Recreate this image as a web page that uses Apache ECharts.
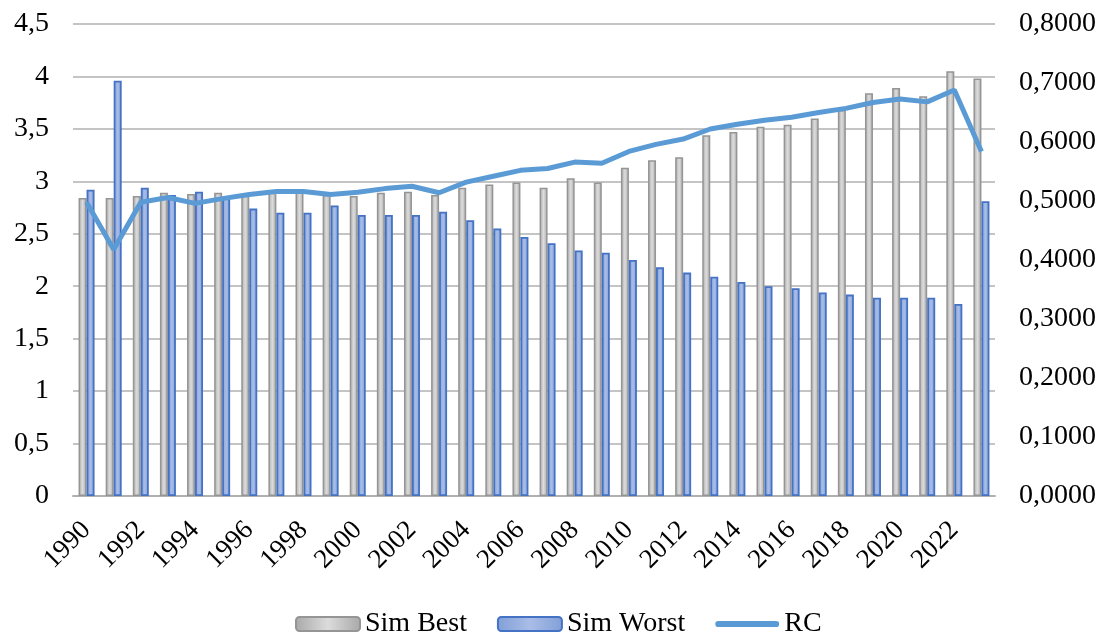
<!DOCTYPE html>
<html>
<head>
<meta charset="utf-8">
<script src="https://cdn.jsdelivr.net/npm/echarts@6/dist/echarts.min.js"></script>
<style>
  html, body { margin: 0; padding: 0; background: #fff; }
  #chart { width: 1103px; height: 635px; }
</style>
</head>
<body>
<div id="chart"></div>
<script>
// Years on the category axis
const years = [];
for (let y = 1990; y <= 2023; y++) years.push(String(y));

// Sim Best (left axis)
const simBest = [2.84, 2.84, 2.86, 2.89, 2.88, 2.89, 2.88, 2.90, 2.90, 2.87,
                 2.86, 2.89, 2.90, 2.87, 2.94, 2.97, 2.99, 2.94, 3.03, 2.99,
                 3.13, 3.20, 3.23, 3.44, 3.47, 3.52, 3.54, 3.60, 3.68, 3.84,
                 3.89, 3.81, 4.05, 3.98];

// Sim Worst (left axis)
const simWorst = [2.92, 3.96, 2.94, 2.87, 2.90, 2.84, 2.74, 2.70, 2.70, 2.77,
                  2.68, 2.68, 2.68, 2.71, 2.63, 2.55, 2.47, 2.41, 2.34, 2.32,
                  2.25, 2.18, 2.13, 2.09, 2.04, 2.00, 1.98, 1.94, 1.92, 1.89,
                  1.89, 1.89, 1.83, 2.81];

// RC (right axis)
const rc = [0.498, 0.418, 0.498, 0.506, 0.496, 0.504, 0.511, 0.516, 0.516, 0.511,
            0.515, 0.521, 0.525, 0.514, 0.532, 0.542, 0.552, 0.555, 0.566, 0.564,
            0.584, 0.596, 0.605, 0.622, 0.630, 0.637, 0.642, 0.650, 0.657, 0.667,
            0.673, 0.668, 0.688, 0.584];

const FONT = 'Liberation Serif';

const grayFill = new echarts.graphic.LinearGradient(0, 0, 1, 0, [
  { offset: 0, color: '#a8a8a8' },
  { offset: 0.5, color: '#dcdcdc' },
  { offset: 1, color: '#a8a8a8' }
]);
const blueFill = new echarts.graphic.LinearGradient(0, 0, 1, 0, [
  { offset: 0, color: '#819fd8' },
  { offset: 0.5, color: '#a9bde6' },
  { offset: 1, color: '#819fd8' }
]);

// rounded bar used as the RC legend marker
const lineIcon = 'path://M3,0 H59 A3,3 0 0 1 59,6 H3 A3,3 0 0 1 3,0 Z';

const chart = echarts.init(document.getElementById('chart'), null, { renderer: 'canvas' });

chart.setOption({
  backgroundColor: '#fff',
  animation: false,
  grid: { left: 73, right: 108, top: 24, bottom: 139 },
  legend: {
    top: 605,
    left: 290,
    itemWidth: 64,
    itemHeight: 14,
    itemGap: 30,
    textStyle: { fontFamily: FONT, fontSize: 28, color: '#000' },
    data: [
      { name: 'Sim Best' },
      { name: 'Sim Worst' },
      { name: 'RC', icon: lineIcon, itemStyle: { color: '#5b9bd5', borderWidth: 0 } }
    ]
  },
  xAxis: {
    type: 'category',
    data: years,
    boundaryGap: true,
    axisLine: { lineStyle: { color: '#b0b0b0', width: 2 } },
    axisTick: { show: false },
    axisLabel: {
      interval: 1,
      rotate: 45,
      margin: 30,
      fontFamily: FONT,
      fontSize: 27,
      color: '#000'
    }
  },
  yAxis: [
    {
      type: 'value',
      min: 0,
      max: 4.5,
      interval: 0.5,
      axisLine: { show: false },
      axisTick: { show: false },
      splitLine: { lineStyle: { color: '#c4c4c4', width: 2 } },
      axisLabel: {
        margin: 24,
        fontFamily: FONT,
        fontSize: 28,
        color: '#000',
        formatter: v => String(v).replace('.', ',')
      }
    },
    {
      type: 'value',
      min: 0,
      max: 0.8,
      interval: 0.1,
      axisLine: { show: false },
      axisTick: { show: false },
      splitLine: { show: false },
      axisLabel: {
        margin: 24,
        fontFamily: FONT,
        fontSize: 28,
        color: '#000',
        formatter: v => v.toFixed(4).replace('.', ',')
      }
    }
  ],
  series: [
    {
      name: 'Sim Best',
      type: 'bar',
      yAxisIndex: 0,
      data: simBest,
      barWidth: 8,
      barGap: 0,
      itemStyle: { color: grayFill, borderColor: '#959595', borderWidth: 1.5 }
    },
    {
      name: 'Sim Worst',
      type: 'bar',
      yAxisIndex: 0,
      data: simWorst,
      barWidth: 8,
      itemStyle: { color: blueFill, borderColor: '#4472c4', borderWidth: 1.8 }
    },
    {
      name: 'RC',
      type: 'line',
      yAxisIndex: 1,
      data: rc,
      z: 5,
      symbol: 'none',
      lineStyle: { color: '#5b9bd5', width: 5 },
      itemStyle: { color: '#5b9bd5' }
    }
  ]
});
</script>
</body>
</html>
